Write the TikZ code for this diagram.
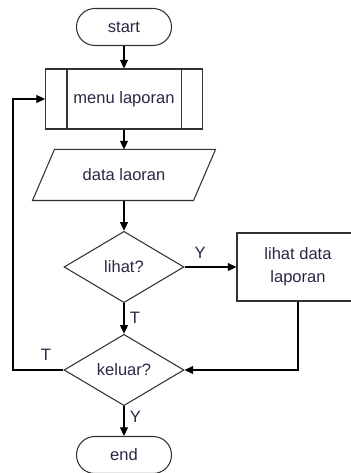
\documentclass[tikz,border=0pt]{standalone}
\usepackage{fontspec}
\setmainfont{Liberation Sans}
\usetikzlibrary{shapes.geometric,arrows.meta}

\definecolor{textc}{RGB}{40,40,70}
\definecolor{shapec}{RGB}{50,50,50}

\begin{document}
\begin{tikzpicture}[x=0.75pt,
					y=-0.75pt,
					>={Triangle[length=6.5pt,width=6pt]},
					line width=0.8pt,
					font=\fontsize{12.4}{17}\selectfont,
					term node/.style={draw=shapec,rounded corners=13.8pt,minimum width=71.25pt,minimum height=27.75pt,text=textc},
					sub node/.style={draw=shapec,minimum width=117.75pt,minimum height=45pt,text=textc},
					io node/.style={minimum width=120pt,minimum height=37.5pt,text=textc},
					dec node/.style={diamond,draw=shapec,inner sep=0pt,minimum width=90pt,minimum height=53.5pt,text=textc},
					proc node/.style={draw=shapec,minimum width=91.5pt,minimum height=51pt,align=center,text=textc},
					lbl/.style={text=textc,inner sep=1pt}]

  \useasboundingbox (0,0) rectangle (350,473);

  \node[term node] (start) at (124,27) {start};
  \node[sub node] (menu) at (124,99) {menu laporan};
  \node[io node] (data) at (124,175) {data laoran};
  \node[dec node] (lihat) at (124,267) {lihat?};
  \node[proc node] (show) at (298,267) {lihat data\\laporan};
  \node[dec node] (keluar) at (124,370) {keluar?};
  \node[term node] (end) at (124,455) {end};
  \coordinate (back) at (13,370);

  % garis dalam subrutin
  \draw[shapec] ([xshift=16.5pt]menu.north west) -- ([xshift=16.5pt]menu.south west);
  \draw[shapec] ([xshift=-16.5pt]menu.north east) -- ([xshift=-16.5pt]menu.south east);
  % jajar genjang input/output
  \draw[shapec] ([xshift=8.25pt]data.north west) -- ([xshift=8.25pt]data.north east)
    -- ([xshift=-8.25pt]data.south east) -- ([xshift=-8.25pt]data.south west) -- cycle;

  \draw[->] (start) -- (menu);
  \draw[->] (menu) -- (data);
  \draw[->] (data) -- (lihat);
  \draw[->] (lihat) -- node[lbl,pos=0.3,above=5pt] {Y} (show);
  \draw[->] (lihat) -- node[lbl,pos=0.47,right=3pt] {T} (keluar);
  \draw[->] (show) |- (keluar);
  \draw[->] (keluar) -- node[lbl,pos=0.35,above=6pt] {T} (back) |- (menu);
  \draw[->] (keluar) -- node[lbl,pos=0.37,right=3pt] {Y} (end);
\end{tikzpicture}
\end{document}
